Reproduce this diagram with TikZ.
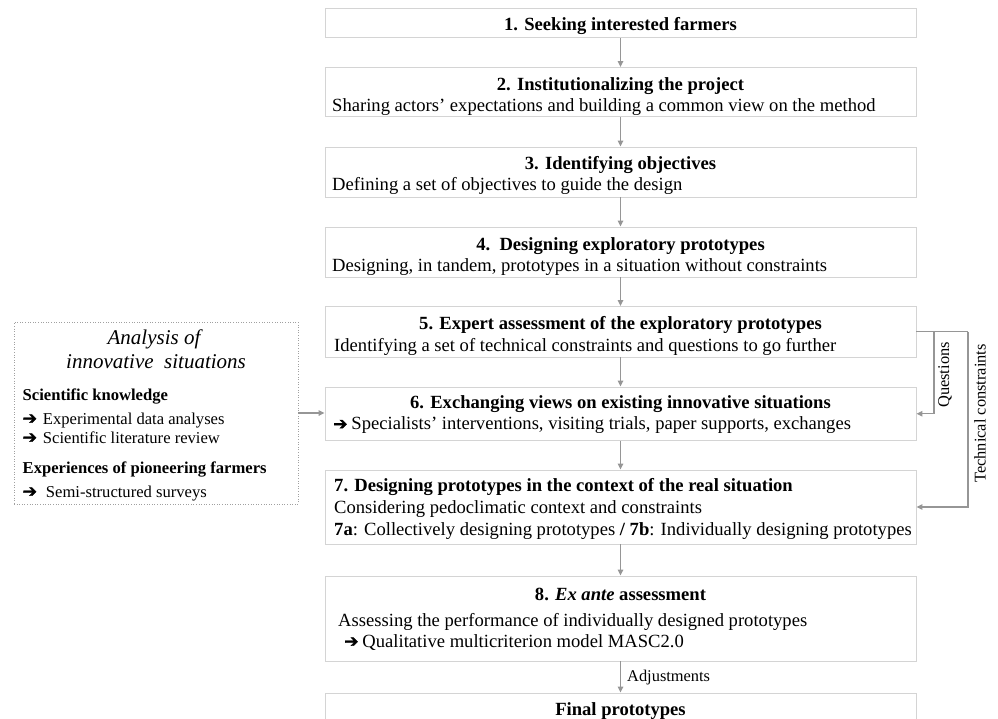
\documentclass[tikz,border=0pt]{standalone}
\usepackage{fontspec}
\setmainfont{Liberation Serif}
\newfontfamily\symf[FakeBold=2]{DejaVu Sans Bold}
\usetikzlibrary{arrows.meta,calc}
\definecolor{boxgray}{RGB}{212,212,212}
\definecolor{arrgray}{RGB}{150,150,150}
\definecolor{dotgray}{RGB}{160,160,160}
\newcommand{\harr}{{\symf\fontsize{17}{17}\selectfont ➔}}
\begin{document}
\begin{tikzpicture}[x=1pt,y=-1pt,
  stepbox/.style={draw=boxgray, line width=0.9pt, fill=white, minimum width=591pt, inner sep=0pt},
  sidebox/.style={draw=dotgray, line width=0.6pt, dotted, fill=white, minimum width=284pt, minimum height=182pt, inner sep=0pt},
  ttl/.style={font=\fontsize{18.6}{21}\selectfont\bfseries, inner sep=0pt, anchor=base},
  ttlw/.style={font=\fontsize{18.6}{21}\selectfont\bfseries, inner sep=0pt, anchor=base west},
  txt/.style={font=\fontsize{18.6}{21}\selectfont, inner sep=0pt, anchor=base west},
  stxt/.style={font=\fontsize{16.6}{19}\selectfont, inner sep=0pt, anchor=base west},
  sbf/.style={font=\fontsize{16.6}{19}\selectfont\bfseries, inner sep=0pt, anchor=base west},
  sit/.style={font=\fontsize{21}{24}\selectfont\itshape, inner sep=0pt, anchor=base},
  lbl/.style={font=\fontsize{16.4}{19}\selectfont, inner sep=0pt},
  flow/.style={draw=arrgray, line width=1.4pt, -{Triangle[length=6pt,width=5.5pt]}},
]
\useasboundingbox (0,0) rectangle (998,718);

% main boxes
\node[stepbox, minimum height=29pt] (b1) at (620.5,23) {};
\node[stepbox, minimum height=49pt] (b2) at (620.5,92) {};
\node[stepbox, minimum height=50pt] (b3) at (620.5,172) {};
\node[stepbox, minimum height=50pt] (b4) at (620.5,252) {};
\node[stepbox, minimum height=50.5pt] (b5) at (620.5,331.75) {};
\node[stepbox, minimum height=53.5pt] (b6) at (620.5,413.75) {};
\node[stepbox, minimum height=74pt] (b7) at (620.5,507) {};
\node[stepbox, minimum height=85pt] (b8) at (620.5,618.5) {};
\node[stepbox, minimum height=47pt] (bf) at (620.5,716.5) {};

% side box
\node[sidebox] (lb) at (156,413) {};

% texts
\node[ttl] (t1) at (620.5,30.7) {1. Seeking interested farmers};
\node[ttl] (t2) at (620.5,90.7) {2. Institutionalizing the project};
\node[txt] (s2) at (332,111.7) {Sharing actors’ expectations and building a common view on the method};
\node[ttl] (t3) at (620.5,169.5) {3. Identifying objectives};
\node[txt] (s3) at (332,190.5) {Defining a set of objectives to guide the design};
\node[ttl] (t4) at (620.5,250) {4.\ \ Designing exploratory prototypes};
\node[txt] (s4) at (332,271) {Designing, in tandem, prototypes in a situation without constraints};
\node[ttl] (t5) at (620.5,329.5) {5. Expert assessment of the exploratory prototypes};
\node[txt] (s5) at (334,351) {Identifying a set of technical constraints and questions to go further};
\node[ttl] (t6) at (620.5,408.5) {6. Exchanging views on existing innovative situations};
\node[txt] (s6) at (333,429.5) {\harr\hspace{4pt}Specialists’ interventions, visiting trials, paper supports, exchanges};
\node[ttlw] (t7) at (334,491.7) {7. Designing prototypes in the context of the real situation};
\node[txt] (s7) at (334,513) {Considering pedoclimatic context and constraints};
\node[txt] (u7) at (334,535) {\textbf{7a}: Collectively designing prototypes \textbf{/ 7b}: Individually designing prototypes};
\node[ttl] (t8) at (620.5,600) {8. \textit{Ex ante} assessment};
\node[txt] (s8) at (338,626) {Assessing the performance of individually designed prototypes};
\node[txt] (u8) at (344,647) {\harr\hspace{4pt}Qualitative multicriterion model MASC2.0};
\node[ttl] (tf) at (620.5,715) {Final prototypes};

% side box texts
\node[sit] (a1) at (154,344) {Analysis of};
\node[sit] (a2) at (156,368) {innovative\ \ situations};
\node[sbf] (k1) at (22.5,400) {Scientific knowledge};
\node[stxt] (k2) at (22.5,424) {\harr\hspace{6pt}Experimental data analyses};
\node[stxt] (k3) at (22.5,443) {\harr\hspace{6pt}Scientific literature review};
\node[sbf] (k4) at (22.5,473) {Experiences of pioneering farmers};
\node[stxt] (k5) at (22.5,497) {\harr\hspace{9pt}Semi-structured surveys};

% vertical flow arrows
\draw[flow] (b1) -- (b2);
\draw[flow] (b2) -- (b3);
\draw[flow] (b3) -- (b4);
\draw[flow] (b4) -- (b5);
\draw[flow] (b5) -- (b6);
\draw[flow] (b6) -- (b7);
\draw[flow] (b7) -- (b8);
\draw[flow] (b8) -- node[lbl, anchor=west, xshift=6pt, yshift=-1pt] (adj) {Adjustments} (bf);

% side arrow
\draw[flow] (lb.east) -- (lb.east -| b6.west);

% feedback brackets
\coordinate (qa) at (934,331.75);
\coordinate (qb) at (934,413.75);
\coordinate (ta) at (968,331.75);
\coordinate (tb) at (968,507);
\draw[draw=arrgray, line width=1.4pt] (b5.east) -- (ta);
\draw[flow] (qa) -- (qb) -- (b6.east);
\draw[flow] (ta) -- (tb) -- (b7.east);
\node[lbl, rotate=90] (ql) at (945,375) {Questions};
\node[lbl, rotate=90] (tl) at (980,413.5) {Technical constraints};
\end{tikzpicture}
\end{document}
